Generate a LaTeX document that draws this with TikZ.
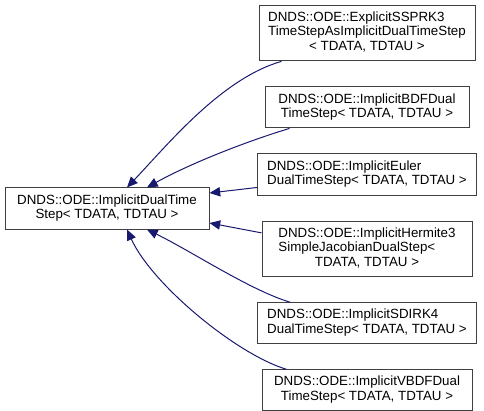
\documentclass[tikz,border=0pt]{standalone}
\usepackage{fontspec}
\setmainfont{Liberation Sans}
\usetikzlibrary{positioning,arrows.meta,calc}
\definecolor{DGNavy}{HTML}{191970}
\definecolor{DGGrey}{HTML}{404040}
\newcommand{\lcol}[1]{\begin{tabular}{@{}l@{}}#1\end{tabular}}
\newcommand{\ccol}[1]{\begin{tabular}{@{}c@{}}#1\end{tabular}}
\newcommand{\ccell}[1]{\multicolumn{1}{@{}c@{}}{#1}}

\begin{document}
\begin{tikzpicture}[
    x=0.75pt, y=-0.75pt,
    node distance=18.75pt,
    dgbox/.style={
      draw=DGGrey,
      fill=white,
      line width=0.75pt,
      inner xsep=0pt,
      inner ysep=4.4pt,
      align=center,
      font=\fontsize{10}{11}\selectfont
    },
    dgarrow/.style={
      -{Triangle[length=8pt,width=7pt]},
      line width=0.75pt,
      DGNavy
    }
  ]
  \useasboundingbox (0,0) rectangle (484,410);

  % Basisklasse
  \node[dgbox, minimum width=153pt] (base) at (107,208.5)
    {\ccol{DNDS::ODE::ImplicitDualTime\\Step< TDATA, TDTAU >}};

  % abgeleitete Klassen, rechte Spalte
  \node[dgbox, minimum width=162pt] (sspk) at (367,33)
    {\lcol{DNDS::ODE::ExplicitSSPRK3\\TimeStepAsImplicitDualTimeStep\\\ccell{< TDATA, TDTAU >}}};
  \node[dgbox, minimum width=153pt, below=of sspk] (bdf)
    {\ccol{DNDS::ODE::ImplicitBDFDual\\TimeStep< TDATA, TDTAU >}};
  \node[dgbox, minimum width=164pt, below=of bdf] (euler)
    {\lcol{DNDS::ODE::ImplicitEuler\\DualTimeStep< TDATA, TDTAU >}};
  \node[dgbox, minimum width=157.5pt, below=of euler] (hermite)
    {\lcol{DNDS::ODE::ImplicitHermite3\\SimpleJacobianDualStep<\\\ccell{TDATA, TDTAU >}}};
  \node[dgbox, minimum width=164pt, below=of hermite] (sdirk)
    {\lcol{DNDS::ODE::ImplicitSDIRK4\\DualTimeStep< TDATA, TDTAU >}};
  \node[dgbox, minimum width=157.5pt, below=of sdirk] (vbdf)
    {\ccol{DNDS::ODE::ImplicitVBDFDual\\TimeStep< TDATA, TDTAU >}};

  % Vererbungspfeile
  \draw[dgarrow] ($(sspk.south west)+(23,0)$)
    .. controls +(-60,17) and +(40,-42) .. ($(base.north)+(20,0)$);
  \draw[dgarrow] ($(bdf.south west)+(25,0)$)
    .. controls +(-40,12) and +(45,-25) .. ($(base.north)+(40,0)$);
  \draw[dgarrow] ($(euler.west)+(0,13)$) -- ($(base.east)+(0,-15.5)$);
  \draw[dgarrow] ($(hermite.west)+(0,-16)$) -- ($(base.east)+(0,14.5)$);
  \draw[dgarrow] ($(sdirk.north west)+(33,0)$)
    .. controls +(-40,-12) and +(45,22) .. ($(base.south)+(40,0)$);
  \draw[dgarrow] ($(vbdf.north west)+(25,0)$)
    .. controls +(-50,-15) and +(25,55) .. ($(base.south)+(20,0)$);

\end{tikzpicture}
\end{document}
